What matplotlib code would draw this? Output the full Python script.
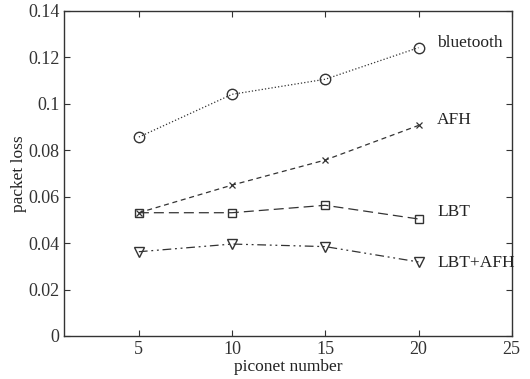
import matplotlib.pyplot as plt

# piconet counts and packet loss
piconets = [5, 10, 15, 20]
bluetooth = [0.0857, 0.1041, 0.1106, 0.1242]
afh = [0.0531, 0.0650, 0.0758, 0.0907]
lbt = [0.0531, 0.0531, 0.0563, 0.0504]
lbt_afh = [0.0363, 0.0396, 0.0385, 0.0319]

series_names = ["bluetooth", "AFH", "LBT", "LBT+AFH"]
label_y = [0.1260, 0.0930, 0.0536, 0.0316]

xticks = [5, 10, 15, 20, 25]
yticks = [0, 0.02, 0.04, 0.06, 0.08, 0.1, 0.12, 0.14]
ytick_labels = ["0", "0.02", "0.04", "0.06", "0.08", "0.1", "0.12", "0.14"]

plt.rcParams["font.family"] = ["Liberation Serif", "DejaVu Serif"]

fig = plt.figure(figsize=(5.3, 3.79), dpi=100)
ax = fig.add_axes([0.1213, 0.1135, 0.8442, 0.8575])

col = "#333333"
ax.plot(piconets, bluetooth, linestyle=":", color=col, lw=0.9,
        marker="o", ms=7.5, mfc="none", mew=1.0)
ax.plot(piconets, afh, linestyle=(0, (4, 3)), color=col, lw=0.9,
        marker="x", ms=4, mew=0.9)
ax.plot(piconets, lbt, linestyle=(0, (8, 4)), color=col, lw=0.9,
        marker="s", ms=6, mfc="none", mew=1.0)
ax.plot(piconets, lbt_afh, linestyle=(0, (7, 3, 1.5, 3, 1.5, 3)), color=col, lw=0.9,
        marker="v", ms=7, mfc="none", mew=1.0)

for name, y in zip(series_names, label_y):
    ax.text(21.0, y, name, fontsize=12.5, va="center", ha="left", color="#222222")

ax.set_xlim(1, 25)
ax.set_ylim(0, 0.14)
ax.set_xticks(xticks)
ax.set_yticks(yticks)
ax.set_yticklabels(ytick_labels)
ax.tick_params(direction="in", top=True, right=True, labelsize=13, length=4,
               colors="#333333", labelcolor="#333333")
for s in ax.spines.values():
    s.set_color("#333333")
    s.set_linewidth(1.0)

ax.set_xlabel("piconet number", fontsize=12.5, color="#222222", labelpad=1)
ax.set_ylabel("packet loss", fontsize=12.5, color="#222222", labelpad=1)

fig.savefig("out.png", dpi=100)
